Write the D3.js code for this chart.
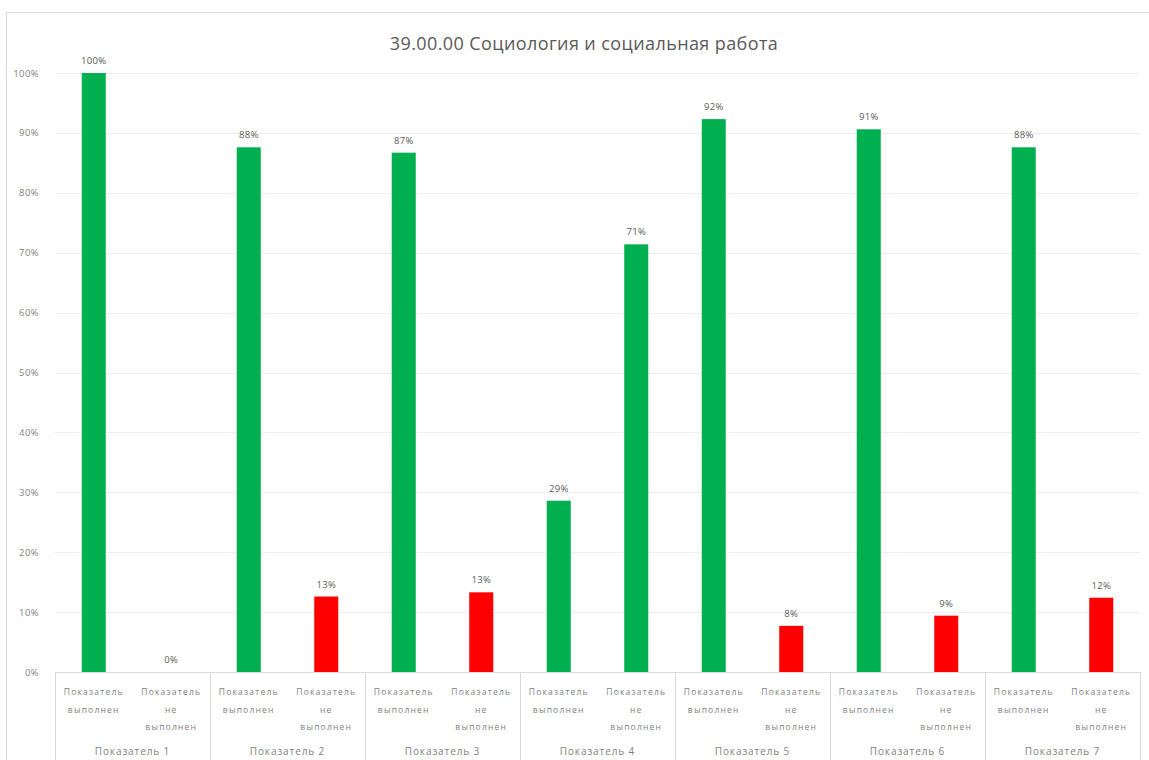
<!DOCTYPE html>
<html><head><meta charset="utf-8">
<script src="https://cdn.jsdelivr.net/npm/d3@7"></script>
<style>html,body{margin:0;padding:0;background:#fff;}svg{display:block;}</style>
</head><body>
<svg id="chart" width="1149" height="760"></svg>
<script>
const title = "39.00.00 Социология и социальная работа";
const groups = ["Показатель 1","Показатель 2","Показатель 3","Показатель 4","Показатель 5","Показатель 6","Показатель 7"];
const subCategories = ["Показатель выполнен","Показатель не выполнен"];
const subLabelLines = [["Показатель","выполнен"],["Показатель","не","выполнен"]];
const values = [100, 0, 87.6, 12.6, 86.7, 13.3, 28.6, 71.4, 92.3, 7.7, 90.6, 9.4, 87.6, 12.4];
const yTicks = [0,10,20,30,40,50,60,70,80,90,100];
// style (not data): colour key per bar
const barColorKeys = ["g","r","g","r","g","r","g","g","g","r","g","r","g","r"];
const palette = {g:"#00b050", r:"#ff0000"};

const svg = d3.select("#chart");
const pLeft = 55, pRight = 1140, pTop = 73, pBottom = 672;
const font = "'Open Sans', 'Liberation Sans', sans-serif";

// chart border
svg.append("rect").attr("x",6.5).attr("y",12.5).attr("width",1160).attr("height",800)
  .attr("fill","none").attr("stroke","#d9d9d9");

const bars = [];
groups.forEach((g,gi)=>subCategories.forEach((s,si)=>bars.push({g,gi,s,si,i:bars.length})));
bars.forEach(b=>{b.v = values[b.i];});

const x = d3.scaleBand().domain(bars.map(b=>b.i)).range([pLeft,pRight]).paddingInner(0.69).paddingOuter(0.345);
const y = d3.scaleLinear().domain([0,100]).range([pBottom,pTop]);

// gridlines
svg.append("g").selectAll("line").data(yTicks).join("line")
  .attr("x1",pLeft).attr("x2",pRight)
  .attr("y1",d=>Math.round(y(d))+0.5).attr("y2",d=>Math.round(y(d))+0.5)
  .attr("stroke","#ededed");

// y axis labels
const yAxis = d3.axisLeft(y).tickValues(yTicks).tickFormat(d=>d+"%").tickSize(0).tickPadding(0);
const ya = svg.append("g").attr("transform",`translate(39,0)`).call(yAxis);
ya.select(".domain").remove();
ya.selectAll("text").attr("font-family",font).attr("font-size",9.5).attr("letter-spacing",0.4).attr("fill","#7f7f7f");

// title
svg.append("text").attr("x",584).attr("y",50).attr("text-anchor","middle")
  .attr("font-family",font).attr("font-size",18).attr("letter-spacing",0.4).attr("fill","#595959").text(title);

// bars
svg.append("g").selectAll("rect").data(bars).join("rect")
  .attr("x",d=>x(d.i)).attr("width",x.bandwidth())
  .attr("y",d=>y(d.v)).attr("height",d=>y(0)-y(d.v))
  .attr("fill",d=>palette[barColorKeys[d.i]]);

// data labels
svg.append("g").selectAll("text").data(bars).join("text")
  .attr("x",d=>x(d.i)+x.bandwidth()/2).attr("y",d=>y(d.v)-9)
  .attr("text-anchor","middle").attr("font-family",font).attr("font-size",9.5).attr("letter-spacing",0.3).attr("fill","#595959")
  .text(d=>Math.round(d.v)+"%");

// x axis line
svg.append("line").attr("x1",pLeft).attr("x2",pRight).attr("y1",pBottom+0.5).attr("y2",pBottom+0.5).attr("stroke","#d9d9d9");

// group separators
const step = x.step();
const groupEdges = d3.range(groups.length+1).map(k=>pLeft + k*step*subCategories.length);
svg.append("g").selectAll("line").data(groupEdges).join("line")
  .attr("x1",d=>Math.round(d)+0.5).attr("x2",d=>Math.round(d)+0.5)
  .attr("y1",pBottom).attr("y2",760).attr("stroke","#d9d9d9");

// inner category labels
const sub = svg.append("g").selectAll("text").data(bars).join("text")
  .attr("text-anchor","middle").attr("font-family",font).attr("font-size",8.5).attr("letter-spacing",1.2).attr("fill","#7f7f7f");
sub.each(function(d){
  const t = d3.select(this);
  subLabelLines[d.si].forEach((ln,li)=>{
    t.append("tspan").attr("x",x(d.i)+x.bandwidth()/2).attr("y",695+li*17.5).text(ln);
  });
});

// group labels
svg.append("g").selectAll("text").data(groups).join("text")
  .attr("x",(d,i)=>(groupEdges[i]+groupEdges[i+1])/2).attr("y",755)
  .attr("text-anchor","middle").attr("font-family",font).attr("font-size",10).attr("letter-spacing",0.9).attr("fill","#7f7f7f")
  .text(d=>d);
</script>
</body></html>
